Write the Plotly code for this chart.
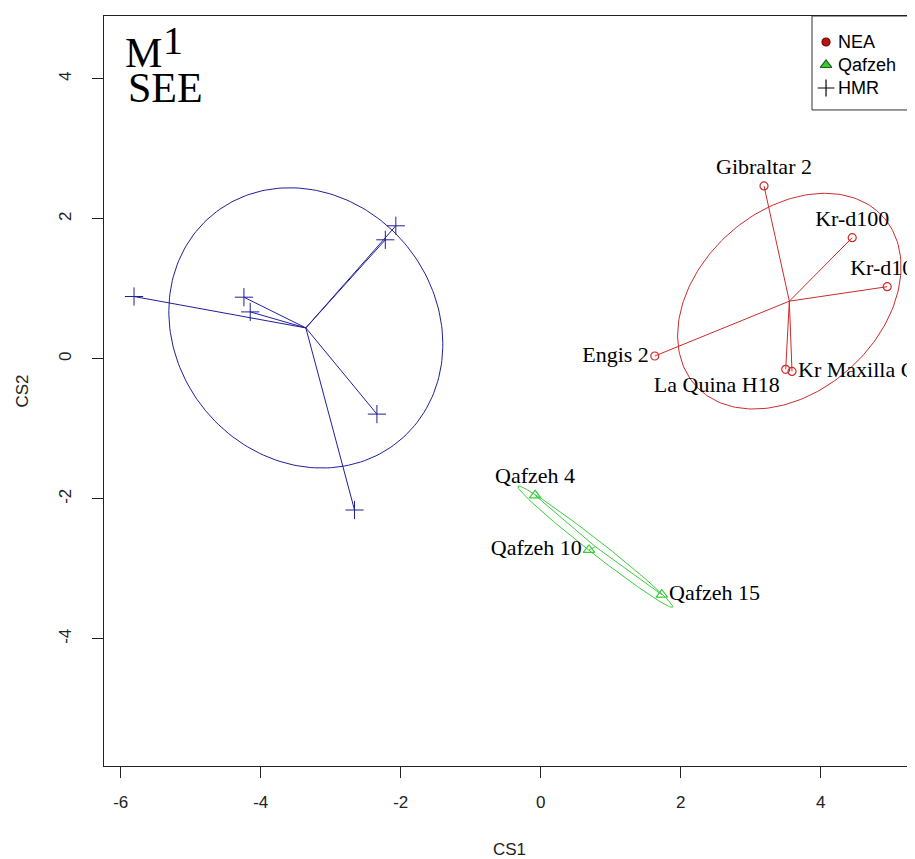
import numpy as np
import plotly.graph_objects as go

# ---------------- data ----------------
hmr_x = [-5.81, -4.24, -4.15, -2.07, -2.22, -2.34, -2.66]
hmr_y = [0.89, 0.88, 0.67, 1.90, 1.70, -0.79, -2.16]

nea_names = ["Gibraltar 2", "Kr-d100", "Kr-d101", "Engis 2", "La Quina H18", "Kr Maxilla C"]
nea_x = [3.19, 4.45, 4.95, 1.63, 3.50, 3.59]
nea_y = [2.47, 1.73, 1.03, 0.04, -0.15, -0.18]

qaf_names = ["Qafzeh 4", "Qafzeh 10", "Qafzeh 15"]
qaf_x = [-0.08, 0.69, 1.73]
qaf_y = [-1.95, -2.73, -3.37]

# ellipse scale (in sd units) per group
ell_scale = {"HMR": 1.39, "NEA": 1.39, "Qafzeh": 1.22}

x_ticks = [-6, -4, -2, 0, 2, 4]
x_ticktext = ["-6", "-4", "-2", "0", "2", "4"]
y_ticks = [-4, -2, 0, 2, 4]
y_ticktext = ["-4", "-2", "0", "2", "4"]

legend_labels = ["NEA", "Qafzeh", "HMR"]

# ---------------- styles ----------------
C_NEA = "#CD2A2A"
C_QAF = "#3CCB3C"
C_HMR = "#1F1F99"
SERIF = "Liberation Serif"
SANS = "Liberation Sans"
AXC = "#222"


def spider(xs, ys):
    cx, cy = np.mean(xs), np.mean(ys)
    lx, ly = [], []
    for x, y in zip(xs, ys):
        lx += [cx, x, None]
        ly += [cy, y, None]
    return lx, ly


def ellipse(xs, ys, k, n=200):
    pts = np.vstack([xs, ys])
    c = pts.mean(axis=1)
    cov = np.cov(pts)
    vals, vecs = np.linalg.eigh(cov)
    t = np.linspace(0, 2 * np.pi, n)
    circ = np.vstack([np.cos(t), np.sin(t)])
    e = vecs @ (np.sqrt(np.clip(vals, 0, None))[:, None] * circ) * k
    return c[0] + e[0], c[1] + e[1]


fig = go.Figure()

groups = [
    ("HMR", hmr_x, hmr_y, C_HMR),
    ("NEA", nea_x, nea_y, C_NEA),
    ("Qafzeh", qaf_x, qaf_y, C_QAF),
]

for name, xs, ys, col in groups:
    ex, ey = ellipse(xs, ys, ell_scale[name])
    fig.add_trace(go.Scatter(x=ex, y=ey, mode="lines", line=dict(color=col, width=1),
                             showlegend=False, hoverinfo="skip"))
    sx, sy = spider(xs, ys)
    fig.add_trace(go.Scatter(x=sx, y=sy, mode="lines", line=dict(color=col, width=1),
                             showlegend=False, hoverinfo="skip"))

# points
fig.add_trace(go.Scatter(x=hmr_x, y=hmr_y, mode="markers", showlegend=False, name="HMR",
                         marker=dict(symbol="cross-thin-open", size=13, color=C_HMR,
                                     line=dict(color=C_HMR, width=1))))

nea_pos = ["top center", "top center", "top center", "middle left", "bottom left", "middle right"]
fig.add_trace(go.Scatter(x=nea_x, y=nea_y, mode="markers+text", text=nea_names, name="NEA",
                         textposition=nea_pos, showlegend=False,
                         textfont=dict(family=SERIF, size=22, color="black"),
                         marker=dict(symbol="circle-open", size=8, color=C_NEA,
                                     line=dict(color=C_NEA, width=1.2))))

qaf_pos = ["top center", "middle left", "middle right"]
fig.add_trace(go.Scatter(x=qaf_x, y=qaf_y, mode="markers+text", text=qaf_names, name="Qafzeh",
                         textposition=qaf_pos, showlegend=False,
                         textfont=dict(family=SERIF, size=22, color="black"),
                         marker=dict(symbol="triangle-up-open", size=10, color=C_QAF,
                                     line=dict(color=C_QAF, width=1.2))))

# ---------------- legend box (drawn by hand, R style) ----------------
leg_rows = [0.9653, 0.9347, 0.9040]      # vertical positions (fraction of plot height)
leg_key_x = 0.8903
leg_text_x = 0.9026
leg_symbols = ["circle", "triangle-up", "cross-thin-open"]
leg_fill = ["#B51414", "#33CC33", "black"]
leg_edge = ["#7A0000", "#1E5E1E", "black"]
leg_size = [8, 10, 12]

fig.add_shape(type="rect", xref="paper", yref="paper", x0=0.873, x1=1.05, y0=0.8747, y1=1.0,
              line=dict(color="#333", width=1), fillcolor="white", layer="below")
for i, lab in enumerate(legend_labels):
    fig.add_trace(go.Scatter(x=[leg_key_x], y=[leg_rows[i]], xaxis="x2", yaxis="y2",
                             mode="markers", showlegend=False, hoverinfo="skip", cliponaxis=False,
                             marker=dict(symbol=leg_symbols[i], size=leg_size[i], color=leg_fill[i],
                                         line=dict(color=leg_edge[i], width=1.2))))
    fig.add_annotation(text=lab, xref="paper", yref="paper", x=leg_text_x, y=leg_rows[i],
                       xanchor="left", yanchor="middle", showarrow=False,
                       font=dict(family=SANS, size=18, color="black"))

# ---------------- panel title: M^1 / SEE ----------------
fig.add_annotation(text="M", xref="paper", yref="paper", x=0.0235, y=0.9507,
                   xanchor="left", yanchor="middle", showarrow=False,
                   font=dict(family=SERIF, size=42, color="black"))
fig.add_annotation(text="1", xref="paper", yref="paper", x=0.0700, y=0.9673,
                   xanchor="left", yanchor="middle", showarrow=False,
                   font=dict(family=SERIF, size=40, color="black"))
fig.add_annotation(text="SEE", xref="paper", yref="paper", x=0.027, y=0.9037,
                   xanchor="left", yanchor="middle", showarrow=False,
                   font=dict(family=SERIF, size=42, color="black"))

fig.update_layout(
    width=907, height=851,
    margin=dict(l=96, r=0, t=8, b=93, autoexpand=False),
    paper_bgcolor="white", plot_bgcolor="white",
    font=dict(family=SANS, size=17, color=AXC),
    showlegend=False,
    xaxis=dict(range=[-6.239, 5.347], tickvals=x_ticks, ticktext=x_ticktext,
               ticks="outside", ticklen=11, tickcolor=AXC, tickwidth=1,
               showline=True, linecolor=AXC, linewidth=1.2, mirror=True,
               showgrid=False, zeroline=False, ticklabelstandoff=9,
               tickfont=dict(family=SANS, size=17, color=AXC),
               title=dict(text="CS1", standoff=32, font=dict(family=SANS, size=17, color=AXC))),
    yaxis=dict(range=[-5.817, 4.897], tickvals=y_ticks, ticktext=y_ticktext,
               ticks="outside", ticklen=11, tickcolor=AXC, tickwidth=1,
               showline=True, linecolor=AXC, linewidth=1.2, mirror=False,
               showgrid=False, zeroline=False, tickangle=-90, ticklabelstandoff=14,
               tickfont=dict(family=SANS, size=17, color=AXC),
               title=dict(text="CS2", standoff=23, font=dict(family=SANS, size=17, color=AXC))),
    xaxis2=dict(overlaying="x", range=[0, 1], visible=False, fixedrange=True),
    yaxis2=dict(overlaying="y", range=[0, 1], visible=False, fixedrange=True),
)

fig.write_html("out.html")
